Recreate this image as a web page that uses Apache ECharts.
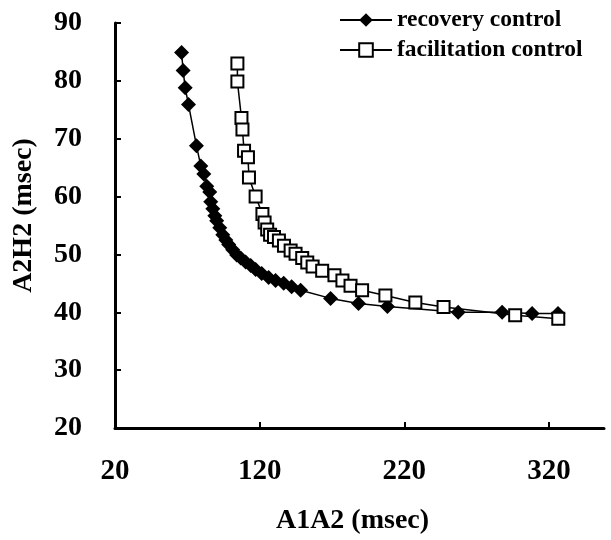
<!DOCTYPE html>
<html>
<head>
<meta charset="utf-8">
<script src="https://cdn.jsdelivr.net/npm/echarts@6/dist/echarts.min.js"></script>
<style>html,body{margin:0;padding:0;background:#fff}#c{width:611px;height:540px}</style>
</head>
<body>
<div id="c"></div>
<script>
var recoveryX = [66.0, 67.1, 68.5, 70.8, 76.3, 79.3, 81.4, 83.4, 85.5, 86.2, 87.6, 89.0, 90.3, 92.4, 94.5, 96.6, 98.6, 101.4, 104.1, 106.9, 110.3, 113.8, 117.2, 121.4, 126.2, 131.0, 136.6, 142.1, 148.3, 169.0, 188.3, 208.3, 257.2, 287.6, 308.3, 326.2];
var recoveryY = [84.9, 81.8, 78.8, 75.9, 68.8, 65.3, 63.9, 61.8, 60.8, 59.1, 57.9, 56.7, 55.8, 54.6, 53.4, 52.5, 51.7, 50.8, 49.9, 49.4, 48.7, 48.1, 47.4, 46.7, 46.0, 45.5, 45.0, 44.4, 43.8, 42.4, 41.5, 41.0, 40.0, 40.0, 39.8, 39.8];
var facilX = [104.6, 104.6, 107.4, 108.1, 109.2, 111.9, 112.6, 117.2, 121.9, 123.4, 125.2, 127.2, 129.9, 133.3, 136.8, 141.4, 144.8, 149.4, 152.9, 156.6, 163.2, 171.7, 177.2, 182.8, 190.8, 206.9, 227.6, 247.1, 296.6, 326.4];
var facilY = [83.0, 79.9, 73.6, 71.6, 67.9, 66.8, 63.3, 60.0, 57.0, 55.5, 54.3, 53.4, 53.0, 52.4, 51.5, 50.7, 50.1, 49.4, 48.6, 47.9, 47.2, 46.4, 45.5, 44.6, 43.8, 42.9, 41.7, 40.9, 39.5, 38.9];
var seriesNames = ['recovery control', 'facilitation control'];
var xTickLabels = [20, 120, 220, 320];
var xTicks = [120, 220, 320];

function pairs(xs, ys) { return xs.map(function (x, i) { return [x, ys[i]]; }); }

var font = 'Liberation Serif';
var chart = echarts.init(document.getElementById('c'), null, { renderer: 'canvas' });
chart.setOption({
  animation: false,
  backgroundColor: '#fff',
  grid: { left: 115, right: 7, top: 23, bottom: 109, containLabel: false },
  legend: {
    orient: 'vertical', left: 334, top: 3, itemWidth: 52, itemHeight: 17, itemGap: 6,
    textStyle: { fontFamily: font, fontWeight: 'bold', fontSize: 23.5, color: '#000', lineHeight: 23 },
    data: seriesNames
  },
  xAxis: {
    type: 'value', min: 20, max: 358, interval: 100,
    name: 'A1A2 (msec)', nameLocation: 'middle', nameGap: 79,
    nameTextStyle: { fontFamily: font, fontWeight: 'bold', fontSize: 28, color: '#000', padding: [0, 14, 0, 0] },
    axisLine: { show: true, lineStyle: { color: '#000', width: 3 } },
    axisTick: { show: true, inside: true, length: 6, lineStyle: { color: '#000', width: 2 }, customValues: xTicks },
    axisLabel: { margin: 29, fontFamily: font, fontWeight: 'bold', fontSize: 29, color: '#000', customValues: xTickLabels },
    splitLine: { show: false }
  },
  yAxis: {
    type: 'value', min: 20, max: 90, interval: 10,
    name: 'A2H2 (msec)', nameLocation: 'middle', nameGap: 77,
    nameTextStyle: { fontFamily: font, fontWeight: 'bold', fontSize: 28, color: '#000', padding: [0, 0, 0, 20] },
    axisLine: { show: true, lineStyle: { color: '#000', width: 3 } },
    axisTick: { show: true, inside: true, length: 6, lineStyle: { color: '#000', width: 2 } },
    axisLabel: { margin: 33, fontFamily: font, fontWeight: 'bold', fontSize: 28, color: '#000' },
    splitLine: { show: false }
  },
  series: [
    {
      name: seriesNames[0], type: 'line', data: pairs(recoveryX, recoveryY),
      symbol: 'diamond', symbolSize: 15, showAllSymbol: true,
      lineStyle: { color: '#000', width: 1.5 },
      itemStyle: { color: '#000', borderColor: '#000', borderWidth: 0 }
    },
    {
      name: seriesNames[1], type: 'line', data: pairs(facilX, facilY),
      symbol: 'rect', symbolSize: 12, showAllSymbol: true,
      lineStyle: { color: '#000', width: 1.5 },
      itemStyle: { color: '#fff', borderColor: '#000', borderWidth: 2 }
    }
  ]
});
</script>
</body>
</html>
